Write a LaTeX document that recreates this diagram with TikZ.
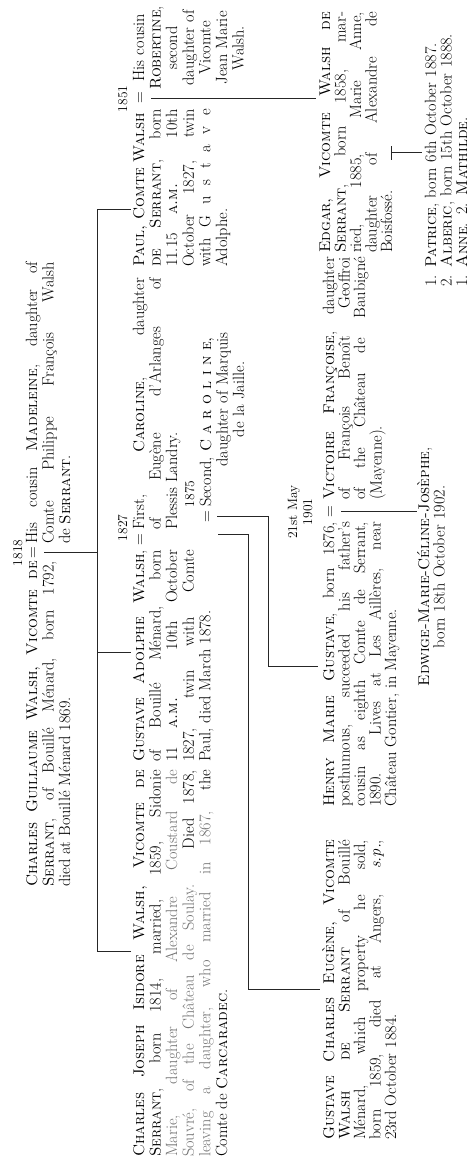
\documentclass[tikz,border=0pt]{standalone}
\usepackage{tikz}
\newcommand\hng[1]{\hangindent=#1\hangafter=1\noindent}
\newcommand\sC[1]{{\fontsize{15.5}{16.6}\selectfont\textsc{#1}}}
\tikzset{
  txt/.style={inner sep=0pt, outer sep=0pt, anchor=base west, text=black, font=\fontsize{16.3}{16.6}\selectfont},
  par/.style={txt, align=justify},
  gen3/.style={font=\fontsize{16.3}{15.5}\selectfont},
  yr/.style={txt, anchor=base, font=\fontsize{13.5}{14}\selectfont},
  eqs/.style={txt, anchor=base},
  ln/.style={line width=1pt, draw=black!85},
}
\begin{document}
\begin{tikzpicture}[x=1pt,y=1pt]
\fill[white] (0,0) rectangle (468,1162);
\useasboundingbox (0,0) rectangle (468,1162);
\begin{scope}[rotate=90, transform shape]
% ---------- generation 1
\node[yr] (y1818) at (609,-22) {1818};
\node[par, text width=326] (cg) at (275,-37) {\hng{12pt}\sC{Charles Guillaume Walsh, Vicomte de}\linebreak \sC{Serrant}, of Bouillé Ménard, born 1792,\linebreak died at Bouillé Ménard 1869.};
\node[eqs] (eq1) at (609,-37) {=};
\node[par, text width=282] (mad) at (618,-37) {\hng{42pt}His cousin \sC{Madeleine}, daughter of\linebreak Comte Philippe François Walsh\linebreak de \sC{Serrant}.};
\coordinate (m1top) at (609,-44);
\coordinate (m1bot) at (609,-97);
\coordinate (barL) at (210,-97);
\coordinate (barR) at (952,-97);
\coordinate (tCJ) at (210,-131);
\coordinate (tGA) at (509,-97);
\coordinate (tGAe) at (509,-131);
\coordinate (tP) at (952,-131);
\draw[ln] (m1top) -- (m1bot);
\draw[ln] (tCJ) -- (barL) -- (barR) -- (tP);
\draw[ln] (tGA) -- (tGAe);
% ---------- generation 2
\node[par, text width=387] (cj) at (5,-144) {\hng{13pt}\sC{Charles Joseph Isidore Walsh, Vicomte de}\linebreak \sC{Serrant}, born 1814, married, 1859, Sidonie\linebreak {\color{black!55}Marie, daughter of Alexandre Coustard de}\linebreak {\color{black!55}Souvré, of the Château de Soulay.} Died 1878,\linebreak {\color{black!55}leaving a daughter, who married in 1867,} the\linebreak Comte de \sC{Carcaradec}.};
\node[par, text width=212] (ga) at (400,-144) {\hng{12pt}\sC{Gustave Adolphe Walsh},\linebreak of Bouillé Ménard, born\linebreak 11 \sC{a.m.} 10th October\linebreak 1827, twin with Comte\linebreak Paul, died March 1878.};
\node[yr] (y1827) at (634,-127) {1827};
\node[eqs] (eqA) at (622,-144) {=};
\node[par, text width=252] (car1) at (632,-144) {\hng{18pt}First, \sC{Caroline}, daughter\linebreak of Eugène d'Arlanges of\linebreak Plessis Landry.};
\node[yr] (y1875) at (668,-194) {1875};
\node[eqs] (eqB) at (645,-211) {=};
\node[txt, text width=215, align=center] (car2) at (655,-211) {\makebox[215pt][s]{Second, \sC{C a r o l i n e,}}\\ daughter of Marquis\\ de la Jaille.};
\node[par, text width=158] (paul) at (895,-144) {\hng{10pt}\rlap{\sC{Paul, Comte Walsh}}\hfill\break \sC{de Serrant}, born\linebreak 11.15 \sC{a.m.} 10th\linebreak October 1827, twin\linebreak with G u s t a v e\linebreak Adolphe.};
\node[yr] (y1851) at (1063,-127) {1851};
\node[eqs] (eqP) at (1064,-144) {=};
\node[txt, text width=92, align=center, anchor=base] (rob) at (1114,-144) {His cousin\\ \sC{Robertine},\\ second\\ daughter of\\ Vicomte\\ Jean Marie\\ Walsh.};
\coordinate (pA) at (1063,-151);
\coordinate (pB) at (1063,-316);
\draw[ln] (pA) -- (pB);
% ---------- descent lines to generation 3
\coordinate (g1a) at (627,-218);
\coordinate (g1b) at (627,-248);
\coordinate (g1c) at (172,-248);
\coordinate (g1d) at (172,-320);
\draw[ln] (g1a) -- (g1b) -- (g1c) -- (g1d);
\coordinate (g2a) at (645,-217);
\coordinate (g2b) at (645,-268);
\coordinate (g2c) at (495,-268);
\coordinate (g2d) at (495,-318);
\draw[ln] (g2a) -- (g2b) -- (g2c) -- (g2d);
% ---------- generation 3
\node[par, gen3, text width=300] (gce) at (22,-334) {\hng{17pt}\sC{Gustave Charles Eugène, Vicomte}\linebreak \sC{Walsh de Serrant} of Bouillé\linebreak Ménard, which property he sold,\linebreak born 1859, died at Angers, \textit{s.p.},\linebreak 23rd October 1884.};
\node[par, gen3, text width=285] (hmg) at (355,-334) {\hng{12pt}\sC{Henry Marie Gustave}, born 1876,\linebreak posthumous, succeeded his father's\linebreak cousin as eighth Comte de Serrant,\linebreak 1890. Lives at Les Aillères, near\linebreak Château Gontier, in Mayenne.};
\node[txt, text width=60, align=center, anchor=base, font=\fontsize{13.5}{15}\selectfont] (may) at (650,-297) {21st May\\ 1901};
\node[eqs] (eqH) at (650,-334) {=};
\node[par, gen3, text width=243] (vic) at (662,-334) {\hng{25pt}\sC{Victoire Françoise}, daughter\linebreak of François Benoît Geoffroi\linebreak of the Château de Baubigné\linebreak (Mayenne).};
\coordinate (hA) at (650,-341);
\coordinate (hB) at (650,-417);
\draw[ln] (hA) -- (hB);
\node[txt, gen3, text width=240, align=center, anchor=base] (edw) at (595,-429) {\sC{Edwige-Marie-Céline-Josèphe},\\ born 18th October 1902.};
\node[par, gen3, text width=241] (edg) at (909,-330) {\hng{12pt}\sC{Edgar, Vicomte Walsh de}\linebreak \sC{Serrant}, born 1858, mar-\linebreak ried, 1885, Marie Anne,\linebreak daughter of Alexandre de\linebreak Boisfossé.};
\coordinate (eTl) at (1002,-391);
\coordinate (eTr) at (1016,-391);
\coordinate (eT) at (1009,-391);
\coordinate (eB) at (1009,-422);
\draw[ln] (eTl) -- (eTr);
\draw[ln] (eT) -- (eB);
\node[txt, gen3, text width=290, align=left] (kids) at (875,-436) {1. \sC{Patrice}, born 6th October 1887.\\ 2. \sC{Alberic}, born 15th October 1888.\\ 1. \sC{Anne}. 2. \sC{Mathilde}.};
\end{scope}
\end{tikzpicture}
\end{document}
